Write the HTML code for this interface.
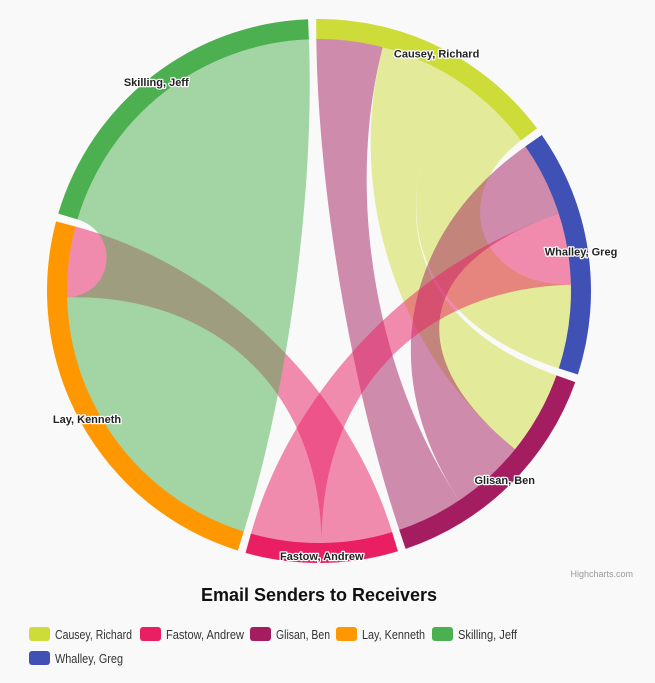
<!DOCTYPE html>
<html><head><meta charset="utf-8"><style>
html,body{margin:0;padding:0;background:#f9f9f9;}
svg{display:block;font-family:"Liberation Sans",sans-serif;}
</style></head><body>
<svg id="chart" width="655" height="683" viewBox="0 0 655 683">
<rect x="0" y="0" width="655" height="683" fill="#f9f9f9"/>
<g id="links"></g>
<g id="nodes"></g>
<g id="labels"></g>
<text x="633" y="577" text-anchor="end" font-size="9" fill="#999">Highcharts.com</text>
<text x="319" y="601" text-anchor="middle" font-size="18" font-weight="bold" fill="#111">Email Senders to Receivers</text>
<g id="legend"></g>
</svg>
<script>
const nodeNames = ['Causey, Richard','Whalley, Greg','Glisan, Ben','Fastow, Andrew','Lay, Kenneth','Skilling, Jeff'];
const nodeColors = ['#cddc39','#3f51b5','#a31d60','#e91e63','#ff9800','#4caf50'];
const linkFrom = ['Glisan, Ben','Causey, Richard','Causey, Richard','Glisan, Ben','Fastow, Andrew','Fastow, Andrew','Skilling, Jeff'];
const linkTo   = ['Causey, Richard','Glisan, Ben','Whalley, Greg','Whalley, Greg','Whalley, Greg','Lay, Kenneth','Lay, Kenneth'];
const linkWeight = [15, 19, 19, 17, 16, 16, 70];
// clockwise link order within each node (indices into link arrays)
const nodeLinkOrder = [[0,1,2],[3,4,2],[1,3,0],[5,4],[6,5],[6]];
const legendNames = ['Causey, Richard','Fastow, Andrew','Glisan, Ben','Lay, Kenneth','Skilling, Jeff','Whalley, Greg'];

const NS='http://www.w3.org/2000/svg';
const cx=319, cy=291, outerR=272, nodeW=20, innerR=outerR-nodeW;
const gapDeg=1.7, startDeg=-0.6;
const sums=nodeNames.map(n=>{let s=0;linkFrom.forEach((f,i)=>{if(f===n)s+=linkWeight[i];if(linkTo[i]===n)s+=linkWeight[i];});return s;});
const total=sums.reduce((a,b)=>a+b,0);
const factor=(360-gapDeg*nodeNames.length)/total;
const rad=d=>d*Math.PI/180;
const pt=(r,d)=>[cx+r*Math.sin(rad(d)), cy-r*Math.cos(rad(d))];
const nodeStart=[]; let a=startDeg;
nodeNames.forEach((n,i)=>{nodeStart.push(a); a+=sums[i]*factor+gapDeg;});
const fromRange={}, toRange={};
nodeNames.forEach((n,i)=>{
  let off=nodeStart[i];
  nodeLinkOrder[i].forEach(li=>{
    const w=linkWeight[li]*factor;
    if(linkFrom[li]===n && !fromRange[li]) fromRange[li]=[off,off+w];
    else toRange[li]=[off,off+w];
    off+=w;
  });
});
const linksG=document.getElementById('links');
linkWeight.forEach((w,li)=>{
  const base=[fromRange[li][0],fromRange[li][1],toRange[li][0],toRange[li][1]];
  const corners=base.map((ang,i)=>{
    const x=Math.sin(rad(ang))*(innerR+1), y=-Math.cos(rad(ang))*(innerR+1);
    let cf=0.6;
    let dist=Math.abs(rad(base[3-i])-rad(ang));
    if(dist>Math.PI) dist=2*Math.PI-dist;
    dist*=innerR;
    if(dist<innerR) cf*=dist/innerR;
    return {x:cx+x,y:cy+y,cpX:cx+(1-cf)*x,cpY:cy+(1-cf)*y};
  });
  const c=corners, r=innerR;
  const d=`M${c[0].x},${c[0].y} A${r},${r} 0 0 1 ${c[1].x},${c[1].y} C${c[1].cpX},${c[1].cpY} ${c[2].cpX},${c[2].cpY} ${c[2].x},${c[2].y} A${r},${r} 0 0 1 ${c[3].x},${c[3].y} C${c[3].cpX},${c[3].cpY} ${c[0].cpX},${c[0].cpY} ${c[0].x},${c[0].y} Z`;
  const p=document.createElementNS(NS,'path');
  p.setAttribute('d',d);
  p.setAttribute('fill',nodeColors[nodeNames.indexOf(linkFrom[li])]);
  p.setAttribute('fill-opacity','0.5');
  
  
  linksG.appendChild(p);
});
const nodesG=document.getElementById('nodes'), labelsG=document.getElementById('labels');
nodeNames.forEach((n,i)=>{
  const s=nodeStart[i], e=s+sums[i]*factor;
  const o1=pt(outerR,s), o2=pt(outerR,e), i2=pt(innerR,e), i1=pt(innerR,s);
  const large=(e-s)>180?1:0;
  const p=document.createElementNS(NS,'path');
  p.setAttribute('d',`M${o1} A${outerR},${outerR} 0 ${large} 1 ${o2} L${i2} A${innerR},${innerR} 0 ${large} 0 ${i1} Z`);
  p.setAttribute('fill',nodeColors[i]);
  
  
  nodesG.appendChild(p);
  const lp=pt(265,(s+e)/2);
  const t=document.createElementNS(NS,'text');
  t.setAttribute('x',lp[0]); t.setAttribute('y',lp[1]+4);
  t.setAttribute('text-anchor','middle');
  t.setAttribute('font-size','11'); t.setAttribute('font-weight','bold');
  t.setAttribute('fill','#222'); t.setAttribute('stroke','#fff'); t.setAttribute('stroke-width','2.5');
  t.setAttribute('paint-order','stroke'); t.setAttribute('stroke-linejoin','round');
  t.textContent=n;
  
  
  labelsG.appendChild(t);
});
const legendG=document.getElementById('legend');
const legendX=[29,140,250,336,432,29], legendY=[627,627,627,627,627,651];
const legendTextW=[77,78,54,63,59,68];
legendNames.forEach((n,i)=>{
  const g=document.createElementNS(NS,'g');
  
  
  const r=document.createElementNS(NS,'rect');
  r.setAttribute('x',legendX[i]); r.setAttribute('y',legendY[i]);
  r.setAttribute('width',21); r.setAttribute('height',14); r.setAttribute('rx',3);
  r.setAttribute('fill',nodeColors[nodeNames.indexOf(n)]);
  
  
  const t=document.createElementNS(NS,'text');
  t.setAttribute('x',legendX[i]+26); t.setAttribute('y',legendY[i]+12);
  t.setAttribute('font-size','13'); t.setAttribute('fill','#333');
  t.setAttribute('textLength',legendTextW[i]); t.setAttribute('lengthAdjust','spacingAndGlyphs');
  t.textContent=n;
  
  
  g.appendChild(r); g.appendChild(t); legendG.appendChild(g);
});
</script>
</body></html>
